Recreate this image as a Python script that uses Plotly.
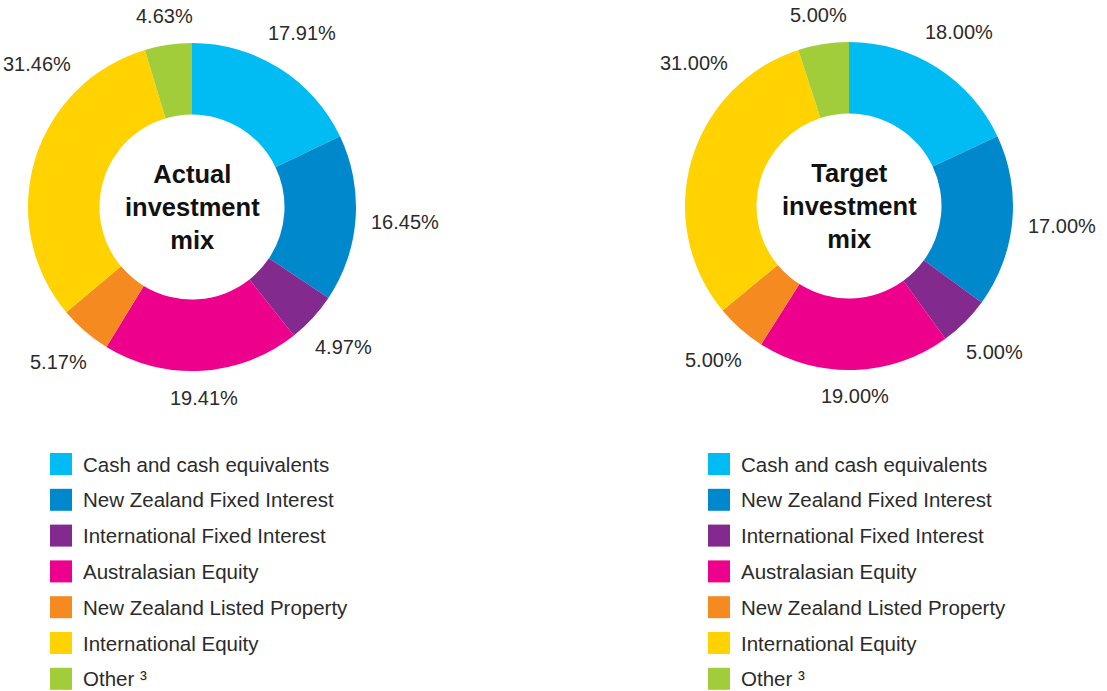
import math
import plotly.graph_objects as go

categories = [
    "Cash and cash equivalents",
    "New Zealand Fixed Interest",
    "International Fixed Interest",
    "Australasian Equity",
    "New Zealand Listed Property",
    "International Equity",
    "Other",
]
legend_labels = categories[:-1] + ["Other ³"]
actual_values = [17.91, 16.45, 4.97, 19.41, 5.17, 31.46, 4.63]
target_values = [18.00, 17.00, 5.00, 19.00, 5.00, 31.00, 5.00]
colors = ["#00BCF2", "#0088CC", "#832A8F", "#EC008C", "#F58A21", "#FFD200", "#A1CD3A"]
center_titles = ["Actual<br>investment<br>mix", "Target<br>investment<br>mix"]

W, H = 1107, 691
FONT = "Liberation Sans, Arial, Helvetica, sans-serif"
TEXT_COLOR = "#2b2b2b"
LABEL_SIZE = 20
LABEL_GAP = 15
PANEL_HALF = 189  # label boxes may not extend further left than this from the pie centre


def px(x):
    return x / W


def py(y):
    return 1 - y / H


# approximate Arial advance widths (em) for label-width estimates
CHAR_W = {".": 0.278, "%": 0.889}


def text_width(s, size):
    return sum(CHAR_W.get(c, 0.556) for c in s) * size


fig = go.Figure()

pies = [
    (actual_values, 192, 207, 164),
    (target_values, 849, 206, 164),
]

for i, (vals, cx, cy, r) in enumerate(pies):
    fig.add_trace(go.Pie(
        labels=categories,
        values=vals,
        sort=False,
        direction="clockwise",
        rotation=0,
        hole=0.564,
        marker=dict(colors=colors, line=dict(width=0)),
        textinfo="none",
        domain=dict(x=[px(cx - r), px(cx + r)], y=[py(cy + r), py(cy - r)]),
        showlegend=False,
        hoverinfo="label+value",
    ))
    fig.add_annotation(
        x=px(cx), y=py(cy), xref="paper", yref="paper",
        text="<b>" + center_titles[i] + "</b>",
        showarrow=False, xanchor="center", yanchor="middle",
        font=dict(family=FONT, size=25.5, color="#111111"),
    )

    # value labels placed just outside each slice's mid-angle
    total = sum(vals)
    cum = 0.0
    for v in vals:
        mid = (cum + v / 2) / total * 360.0
        cum += v
        txt = f"{v:.2f}%"
        w = text_width(txt, LABEL_SIZE)
        h = LABEL_SIZE

        def centre(theta):
            t = math.radians(theta)
            ux, uy = math.sin(t), -math.cos(t)
            ext = abs(ux) * w / 2 + abs(uy) * h / 2
            d = r + LABEL_GAP + ext
            return cx + d * ux, cy + d * uy

        theta = mid
        lx, ly = centre(theta)
        # slide label round towards the top if it would leave its panel
        while lx - w / 2 < cx - PANEL_HALF and theta < 360:
            theta += 0.5
            lx, ly = centre(theta)
        fig.add_annotation(
            x=px(lx), y=py(ly), xref="paper", yref="paper",
            text=txt, showarrow=False, xanchor="center", yanchor="middle",
            font=dict(family=FONT, size=LABEL_SIZE, color=TEXT_COLOR),
        )

# Legends (one per pie)
legend_x0 = [50, 708]
row0, step, sq = 464, 35.8, 22
for lx0 in legend_x0:
    for j, lab in enumerate(legend_labels):
        yc = row0 + j * step
        fig.add_shape(
            type="rect", xref="paper", yref="paper",
            x0=px(lx0), x1=px(lx0 + sq),
            y0=py(yc + sq / 2), y1=py(yc - sq / 2),
            fillcolor=colors[j], line=dict(width=0),
        )
        fig.add_annotation(
            x=px(lx0 + sq + 9), y=py(yc), xref="paper", yref="paper",
            text=lab, showarrow=False, xanchor="left", yanchor="middle",
            font=dict(family=FONT, size=20.5, color=TEXT_COLOR),
        )

fig.update_layout(
    width=W, height=H,
    margin=dict(l=0, r=0, t=0, b=0, autoexpand=False),
    paper_bgcolor="white",
    plot_bgcolor="white",
    showlegend=False,
)

fig.write_html(
    "out.html",
    config={"displayModeBar": False},
    post_script="document.body.style.margin='0px'; document.body.style.overflow='hidden';",
)
